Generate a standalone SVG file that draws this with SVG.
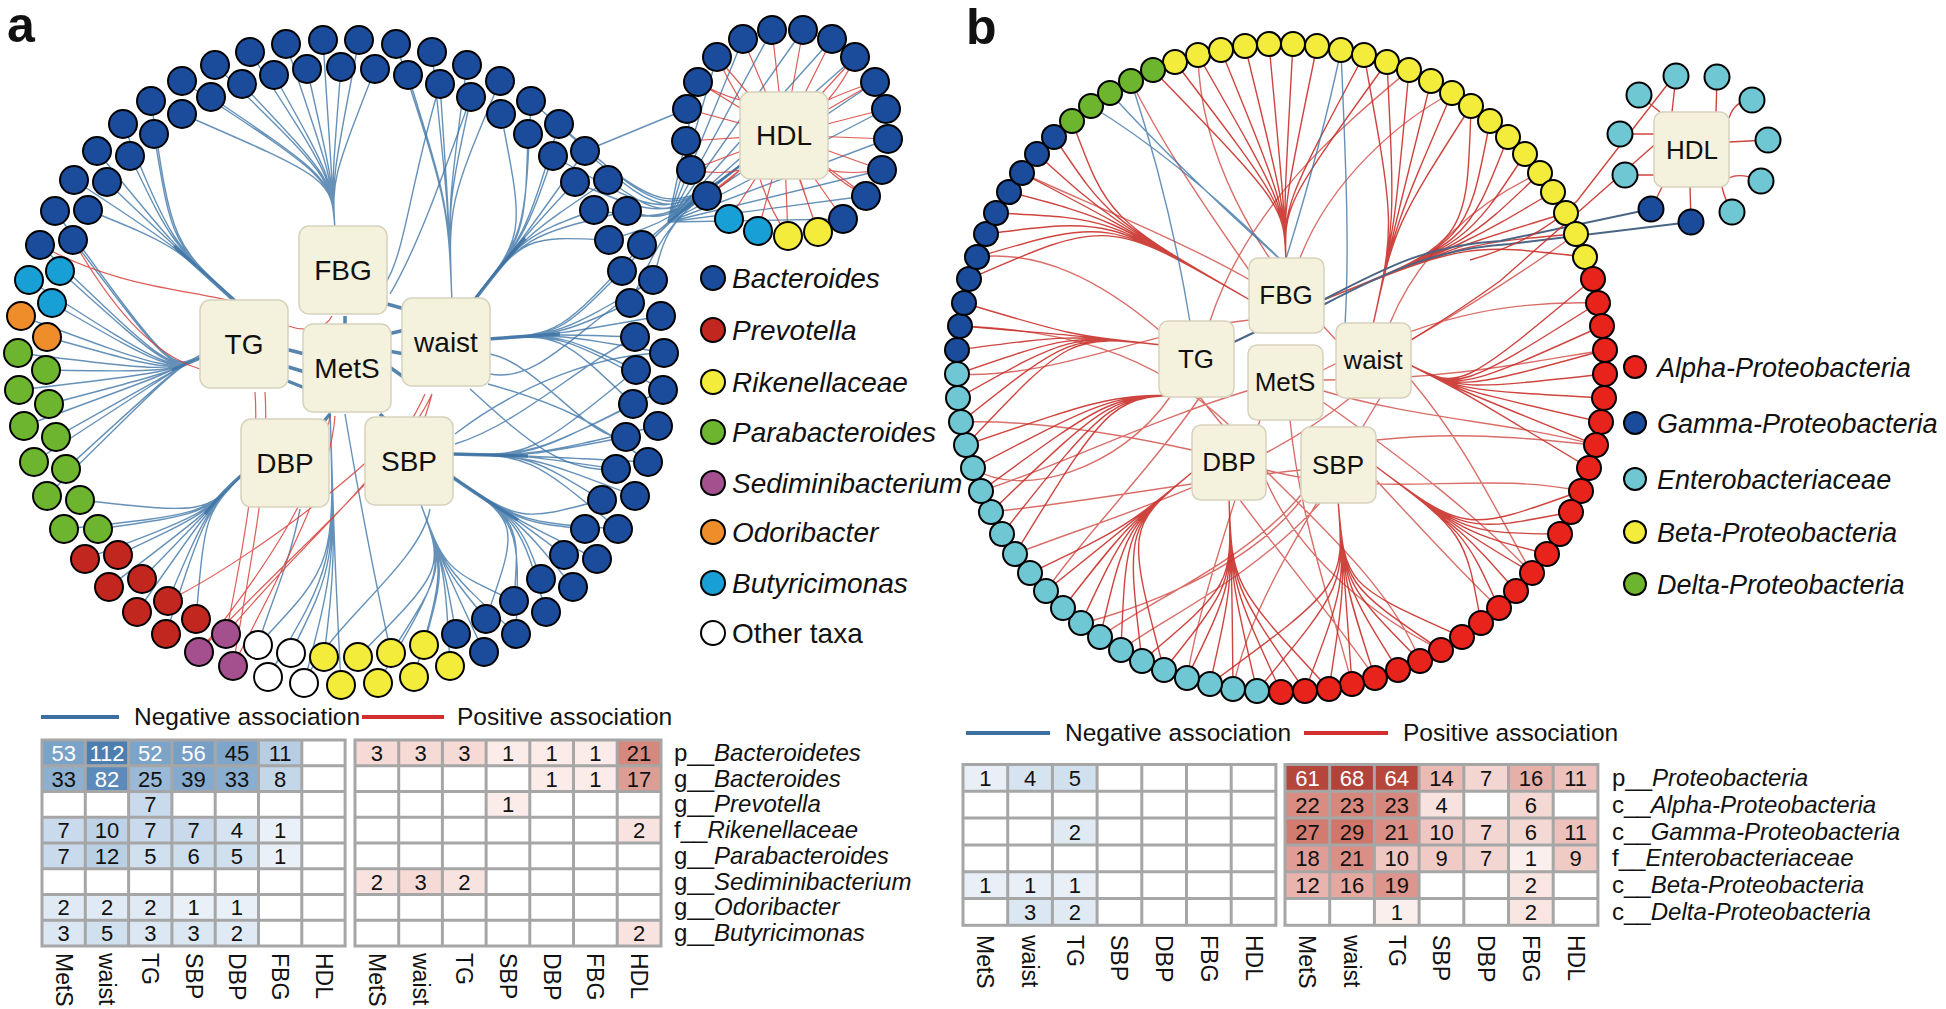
<svg xmlns="http://www.w3.org/2000/svg" width="1946" height="1009" viewBox="0 0 1946 1009">
<style>
text{font-family:"Liberation Sans",Arial,sans-serif;fill:#111}
.pl{font-size:50px;font-weight:bold}
.n{stroke:#000;stroke-width:2}
.cb{fill:#1b4b9b}.cr{fill:#c1261f}.cy{fill:#f3ec3b}.cg{fill:#6db52e}.cp{fill:#a4508f}.co{fill:#ef8d2b}.cc{fill:#18a0d6}.cw{fill:#fff}.cl{fill:#6fc7d4}.ca{fill:#e8231b}
.eb{fill:none;stroke:#3f75a8;stroke-width:1.4;stroke-opacity:.8}
.ebt{fill:none;stroke:#3a6f9f;stroke-width:3.5;stroke-opacity:.85}
.er{fill:none;stroke:#d6403a;stroke-width:1.2;stroke-opacity:.85}
.erb{fill:none;stroke:#c9302a;stroke-width:1.4;stroke-opacity:.9}
.ed{fill:none;stroke:#4b6584;stroke-width:2}
.hub rect{fill:#f4f1dc;stroke:#d6d2bd;stroke-width:1.5}
.hub text{font-size:28px;text-anchor:middle}
.hb text{font-size:26px}
.lg{font-size:28px;font-style:italic}
.lgb{font-size:27px;font-style:italic}
.hv{font-size:22px;text-anchor:middle}
.hw{fill:#fff}
.rl{font-size:24px}
.cn{font-size:23px}
.as{font-size:24.5px}
.gl{fill:none;stroke:#a6a6a6;stroke-width:3}
.lb{stroke:#3b6fa0;stroke-width:4}
.lr{stroke:#d32f2f;stroke-width:4}
</style>

<text class="pl" x="7" y="42">a</text>
<text class="pl" x="966" y="44">b</text>

<g id="connectors">
<g id="a-edges" transform="translate(0,4)">
<path class="eb" d="M335 226C332 175 332 175 182 110M335 226C332 175 332 175 182 77M335 226C332 175 332 175 211 93M335 226C332 175 332 175 215 61M335 226C332 175 332 175 242 80M335 226C332 175 332 175 250 48M335 226C332 175 332 175 274 71M335 226C332 175 332 175 286 40M335 226C332 175 332 175 307 65M335 226C332 175 332 175 323 36M335 226C332 175 332 175 341 63M335 226C332 175 332 175 359 36M335 226C332 175 332 175 375 65"/>
<path class="eb" d="M452 298C448 200 448 200 396 40M452 298C448 200 448 200 408 71M452 298C448 200 448 200 432 48M452 298C448 200 448 200 440 80M452 298C448 200 448 200 467 61M452 298C448 200 448 200 471 93M452 298C448 200 448 200 500 77"/>
<path class="eb" d="M470 300C525 232 525 232 501 110M470 300C525 232 525 232 531 97M470 300C525 232 525 232 528 130M470 300C525 232 525 232 559 120M470 300C525 232 525 232 553 152M470 300C525 232 525 232 585 147M470 300C525 232 525 232 575 178M470 300C525 232 525 232 608 176M470 300C525 232 525 232 594 206M470 300C525 232 525 232 627 207M470 300C525 232 525 232 609 236"/>
<path class="ebt" d="M470 302Q500 262 525 234M488 335Q530 332 560 330"/>
<path class="eb" d="M488 335C560 330 560 330 642 241M488 335C560 330 560 330 622 267M488 335C560 330 560 330 653 276M488 335C560 330 560 330 630 299M488 335C560 330 560 330 661 312M488 335C560 330 560 330 635 333M488 335C560 330 560 330 664 349M488 335C560 330 560 330 636 366M488 335C560 330 560 330 663 386M488 335C560 330 560 330 633 400"/>
<path class="eb" d="M452 450C530 452 530 452 636 366M452 450C530 452 530 452 663 386M452 450C530 452 530 452 633 400M452 450C530 452 530 452 658 422M452 450C530 452 530 452 626 433M452 450C530 452 530 452 648 458M452 450C530 452 530 452 616 465M452 450C530 452 530 452 635 492M452 450C530 452 530 452 602 496M452 450C530 452 530 452 618 525"/>
<path class="ebt" d="M452 450L528 452M448 470Q488 498 518 516M243 470Q222 488 205 510M205 352L172 366M240 302L174 242"/>
<path class="eb" d="M448 470C520 518 520 518 602 496M448 470C520 518 520 518 618 525M448 470C520 518 520 518 585 525M448 470C520 518 520 518 597 555M448 470C520 518 520 518 564 551M448 470C520 518 520 518 573 583M448 470C520 518 520 518 541 575M448 470C520 518 520 518 546 608M448 470C520 518 520 518 514 597M448 470C520 518 520 518 516 630M448 470C520 518 520 518 486 615"/>
<path class="eb" d="M420 498C445 565 445 565 514 597M420 498C445 565 445 565 516 630M420 498C445 565 445 565 486 615M420 498C445 565 445 565 484 648M420 498C445 565 445 565 456 630M420 498C445 565 445 565 450 662M420 498C445 565 445 565 424 641M420 498C445 565 445 565 414 673M420 498C445 565 445 565 391 649M420 498C445 565 445 565 378 679M420 498C445 565 445 565 358 653"/>
<path class="eb" d="M330 405C335 560 335 560 341 681M330 405C335 560 335 560 324 653M330 405C335 560 335 560 304 679M330 405C335 560 335 560 291 649M330 405C335 560 335 560 268 673M330 405C335 560 335 560 258 641"/>
<path class="eb" d="M243 470C205 510 205 510 196 615M243 470C205 510 205 510 166 630M243 470C205 510 205 510 168 597M243 470C205 510 205 510 137 608M243 470C205 510 205 510 142 575M243 470C205 510 205 510 109 583M243 470C205 510 205 510 118 551M243 470C205 510 205 510 85 555M243 470C205 510 205 510 98 525M243 470C205 510 205 510 64 525M243 470C205 510 205 510 80 496"/>
<path class="eb" d="M202 350C172 368 172 368 47 492M202 350C172 368 172 368 66 465M202 350C172 368 172 368 34 458M202 350C172 368 172 368 56 433M202 350C172 368 172 368 24 422M202 350C172 368 172 368 49 400M202 350C172 368 172 368 19 386M202 350C172 368 172 368 46 366M202 350C172 368 172 368 18 349M202 350C172 368 172 368 47 333M202 350C172 368 172 368 21 312M202 350C172 368 172 368 52 299M202 350C172 368 172 368 29 276M202 350C172 368 172 368 60 267M202 350C172 368 172 368 40 241M202 350C172 368 172 368 73 236M202 350C172 368 172 368 55 207"/>
<path class="eb" d="M240 300C172 240 172 240 88 206M240 300C172 240 172 240 74 176M240 300C172 240 172 240 107 178M240 300C172 240 172 240 97 147M240 300C172 240 172 240 130 152M240 300C172 240 172 240 123 120M240 300C172 240 172 240 154 130M240 300C172 240 172 240 151 97"/>
<path class="eb" d="M490 370C540 380 580 320 653 276M488 380C560 400 600 420 648 458M455 440C520 420 580 360 636 333M455 430C520 380 600 350 664 349M490 350C540 360 590 440 626 433M470 385C520 430 560 470 616 465M385 280C405 250 410 180 440 80M390 290C420 240 450 150 471 93M300 505C290 560 270 600 258 641M430 505C420 560 330 620 304 679M345 410C360 500 380 600 391 649"/>
<path class="ebt" d="M285 345L305 350M285 362L305 368M285 376L305 384M388 330L405 326M388 347L405 350M388 362L405 374M345 312L345 326M330 410L320 422M380 410L390 420M387 300L405 305"/>
<path class="er" d="M243 300C190 285 120 285 40 241M200 365C150 350 110 300 73 236M332 312C326 325 305 328 288 322M226 630C240 560 260 460 255 388M233 662C280 570 330 480 335 412M199 648C300 540 400 460 432 390M226 630C300 540 390 470 425 390M233 662C250 560 270 470 265 388M199 648C270 560 320 480 330 412M168 597C240 560 320 500 370 455M432 390C428 405 425 415 420 425"/>
</g>
<g id="a-hdl-edges">
<path class="eb" d="M760 150C668 222 668 222 559 124M760 150C668 222 668 222 585 151M760 150C668 222 668 222 608 180M760 150C668 222 668 222 594 210M760 150C668 222 668 222 627 211M760 150C668 222 668 222 609 240M760 150C668 222 668 222 642 245M760 150C668 222 668 222 622 271M760 150C668 222 668 222 653 280M760 150C668 222 668 222 630 303M760 150C668 222 668 222 575 182M760 150C668 222 668 222 553 156M760 150C668 222 668 222 531 101"/>
<path class="ebt" style="stroke-width:2.5" d="M760 150Q715 185 668 222"/>
<path class="eb" d="M668 222L832 39M668 222L855 57M668 222L875 82M668 222L886 109M668 222L888 139M668 222L882 170M668 222L866 196M668 222L843 219M668 222L717 57M668 222L743 39M668 222L772 30M668 222L803 30M668 222L698 82M687 109L585 151"/>
<path class="er" d="M784 135L772 30M784 135L803 30M784 135L832 39M784 135L855 57M784 135L875 82M784 135L886 109M784 135L888 139M784 135L882 170M784 135L866 196M784 135L843 219M784 135L818 232M784 135L788 236M784 135L758 231M784 135L729 219M784 135L707 196M784 135L691 170M784 135L686 141M784 135L687 109M784 135L698 82M784 135L717 57M784 135L743 39M740 100Q720 95 698 82M740 100Q728 80 717 57M828 100Q845 80 855 57M828 100Q850 90 875 82M828 170Q850 175 882 170M828 170Q845 185 866 196M740 170Q720 175 691 170M740 170Q725 185 707 196M760 179Q770 210 788 236M800 179Q810 210 818 232"/>
</g>
<g id="b-edges">
<path class="erb" d="M1286 262C1284 205 1284 205 1175 62M1286 262C1284 205 1284 205 1198 55M1286 262C1284 205 1284 205 1221 50M1286 262C1284 205 1284 205 1245 46M1286 262C1284 205 1284 205 1269 44M1286 262C1284 205 1284 205 1293 44M1286 262C1284 205 1284 205 1317 46M1286 262C1284 205 1284 205 1364 55M1286 262C1284 205 1284 205 1387 62M1286 262C1284 205 1284 205 1153 70"/>
<path class="erb" d="M1250 300C1108 218 1108 218 969 279M1250 300C1108 218 1108 218 977 257M1250 300C1108 218 1108 218 986 234M1250 300C1108 218 1108 218 996 213M1250 300C1108 218 1108 218 1009 192M1250 300C1108 218 1108 218 1022 173M1250 300C1108 218 1108 218 1037 154M1250 300C1108 218 1108 218 1054 137M1250 300C1108 218 1108 218 1072 121"/>
<path class="erb" d="M1162 345C1070 335 1070 335 966 445M1162 345C1070 335 1070 335 961 422M1162 345C1070 335 1070 335 958 398M1162 345C1070 335 1070 335 957 374M1162 345C1070 335 1070 335 957 350M1162 345C1070 335 1070 335 960 326M1162 345C1070 335 1070 335 964 303"/>
<path class="erb" d="M1200 395C1112 395 1112 395 1015 554M1200 395C1112 395 1112 395 1002 534M1200 395C1112 395 1112 395 991 512M1200 395C1112 395 1112 395 981 491M1200 395C1112 395 1112 395 973 468M1200 395C1112 395 1112 395 966 445"/>
<path class="erb" d="M1195 470C1126 527 1126 527 1164 670M1195 470C1126 527 1126 527 1142 661M1195 470C1126 527 1126 527 1121 650M1195 470C1126 527 1126 527 1100 637M1195 470C1126 527 1126 527 1081 623M1195 470C1126 527 1126 527 1063 608M1195 470C1126 527 1126 527 1046 591M1195 470C1126 527 1126 527 1030 573"/>
<path class="erb" d="M1229 498C1232 585 1232 585 1329 689M1229 498C1232 585 1232 585 1305 691M1229 498C1232 585 1232 585 1281 692M1229 498C1232 585 1232 585 1257 691M1229 498C1232 585 1232 585 1233 689M1229 498C1232 585 1232 585 1210 684M1229 498C1232 585 1232 585 1187 678M1229 498C1232 585 1232 585 1164 670M1229 498C1232 585 1232 585 1142 661"/>
<path class="erb" d="M1338 500C1345 585 1345 585 1462 637M1338 500C1345 585 1345 585 1441 650M1338 500C1345 585 1345 585 1420 661M1338 500C1345 585 1345 585 1398 670M1338 500C1345 585 1345 585 1375 678M1338 500C1345 585 1345 585 1352 684M1338 500C1345 585 1345 585 1329 689M1338 500C1345 585 1345 585 1305 691M1338 500C1345 585 1345 585 1257 691M1338 500C1345 585 1345 585 1210 684"/>
<path class="erb" d="M1374 465C1465 533 1465 533 1581 491M1374 465C1465 533 1465 533 1571 512M1374 465C1465 533 1465 533 1560 534M1374 465C1465 533 1465 533 1547 554M1374 465C1465 533 1465 533 1532 573M1374 465C1465 533 1465 533 1516 591M1374 465C1465 533 1465 533 1499 608M1374 465C1465 533 1465 533 1481 623"/>
<path class="erb" d="M1410 365C1460 390 1460 390 1593 279M1410 365C1460 390 1460 390 1598 303M1410 365C1460 390 1460 390 1602 326M1410 365C1460 390 1460 390 1605 350M1410 365C1460 390 1460 390 1605 374M1410 365C1460 390 1460 390 1604 398M1410 365C1460 390 1460 390 1601 422M1410 365C1460 390 1460 390 1596 445M1410 365C1460 390 1460 390 1589 468"/>
<path class="erb" d="M1323 300C1467 243 1467 243 1471 106M1323 300C1467 243 1467 243 1490 121M1323 300C1467 243 1467 243 1508 137M1323 300C1467 243 1467 243 1525 154M1323 300C1467 243 1467 243 1540 173M1323 300C1467 243 1467 243 1553 192M1323 300C1467 243 1467 243 1566 213M1323 300C1467 243 1467 243 1576 234M1323 300C1467 243 1467 243 1585 257"/>
<path class="erb" d="M1373 325C1395 225 1395 225 1364 55M1373 325C1395 225 1395 225 1387 62M1373 325C1395 225 1395 225 1409 70M1373 325C1395 225 1395 225 1431 81M1373 325C1395 225 1395 225 1452 93M1373 325C1395 225 1395 225 1471 106"/>
<path class="erb" style="stroke-opacity:.7" d="M1320 390C1420 420 1500 420 1596 445M1320 400C1420 470 1480 520 1532 573M1200 397C1260 480 1380 560 1420 661M1305 490C1250 560 1150 600 1100 637M1350 398C1250 480 1100 520 1015 554M1250 320C1150 330 1050 380 957 374M1390 323C1420 250 1480 200 1540 173M1250 390C1150 420 1050 470 981 491M1301 470C1200 480 1100 500 991 512M1266 470C1380 500 1480 470 1581 491M1380 398C1320 500 1250 600 1233 689M1210 321C1250 200 1350 120 1409 70M1250 280C1180 240 1080 200 1022 173M1411 380C1470 450 1500 520 1532 573M1320 503C1250 580 1160 620 1121 650M1240 500C1300 580 1350 640 1375 678M1290 420C1300 520 1330 600 1352 684M1260 420C1230 520 1200 600 1187 678M1200 397C1150 470 1080 540 1046 591M1323 380C1450 380 1540 360 1605 350M1323 370C1420 320 1500 300 1598 303M1411 340C1480 300 1540 260 1576 234M1376 480C1450 560 1490 600 1499 608M1266 480C1300 560 1380 620 1441 650M1192 450C1100 430 1020 420 961 422M1159 330C1100 280 1040 250 977 257M1249 270C1200 200 1160 140 1131 81M1300 258C1330 180 1400 120 1452 93M1336 340C1250 250 1200 150 1198 55M1376 440C1470 430 1540 440 1596 445M1301 500C1240 580 1100 620 1081 623M1229 425C1150 350 1060 330 960 326M1170 397C1120 470 1020 500 973 468"/>
<path class="eb" d="M1283 262Q1180 160 1091 106M1283 262Q1180 170 1110 93M1190 322Q1170 200 1131 81M1341 50C1345 150 1350 240 1345 325M1285 262Q1320 150 1341 50"/>
<path class="ed" d="M1234 342L1255 332M1323 300C1390 265 1430 245 1500 241L1651 209M1323 305C1390 270 1440 248 1510 244L1691 222"/>
<path class="erb" d="M1676 76L1672 112M1717 77L1716 112M1752 100Q1735 100 1729 118M1768 140L1729 142M1761 181Q1740 172 1729 178M1732 212Q1725 200 1722 187M1691 222L1690 187M1651 209L1662 187M1625 175L1654 175M1620 134L1654 134M1639 95L1660 112M1660 140L1500 281Q1460 310 1411 340M1667 85L1577 201Q1540 240 1470 260"/>
</g>
</g>

<g id="a-ring" class="n" transform="translate(0,4)">
<g id="a-bacteroides" class="cb">
<circle cx="341" cy="63" r="14"/><circle cx="359" cy="36" r="14"/><circle cx="375" cy="65" r="14"/><circle cx="396" cy="40" r="14"/><circle cx="408" cy="71" r="14"/><circle cx="432" cy="48" r="14"/><circle cx="440" cy="80" r="14"/><circle cx="467" cy="61" r="14"/><circle cx="471" cy="93" r="14"/><circle cx="500" cy="77" r="14"/><circle cx="501" cy="110" r="14"/><circle cx="531" cy="97" r="14"/><circle cx="528" cy="130" r="14"/><circle cx="559" cy="120" r="14"/><circle cx="553" cy="152" r="14"/><circle cx="585" cy="147" r="14"/><circle cx="575" cy="178" r="14"/><circle cx="608" cy="176" r="14"/><circle cx="594" cy="206" r="14"/><circle cx="627" cy="207" r="14"/><circle cx="609" cy="236" r="14"/><circle cx="642" cy="241" r="14"/><circle cx="622" cy="267" r="14"/><circle cx="653" cy="276" r="14"/><circle cx="630" cy="299" r="14"/><circle cx="661" cy="312" r="14"/><circle cx="635" cy="333" r="14"/><circle cx="664" cy="349" r="14"/><circle cx="636" cy="366" r="14"/><circle cx="663" cy="386" r="14"/><circle cx="633" cy="400" r="14"/><circle cx="658" cy="422" r="14"/><circle cx="626" cy="433" r="14"/><circle cx="648" cy="458" r="14"/><circle cx="616" cy="465" r="14"/><circle cx="635" cy="492" r="14"/><circle cx="602" cy="496" r="14"/><circle cx="618" cy="525" r="14"/><circle cx="585" cy="525" r="14"/><circle cx="597" cy="555" r="14"/><circle cx="564" cy="551" r="14"/><circle cx="573" cy="583" r="14"/><circle cx="541" cy="575" r="14"/><circle cx="546" cy="608" r="14"/><circle cx="514" cy="597" r="14"/><circle cx="516" cy="630" r="14"/><circle cx="486" cy="615" r="14"/><circle cx="484" cy="648" r="14"/><circle cx="456" cy="630" r="14"/>
<circle cx="40" cy="241" r="14"/><circle cx="73" cy="236" r="14"/><circle cx="55" cy="207" r="14"/><circle cx="88" cy="206" r="14"/><circle cx="74" cy="176" r="14"/><circle cx="107" cy="178" r="14"/><circle cx="97" cy="147" r="14"/><circle cx="130" cy="152" r="14"/><circle cx="123" cy="120" r="14"/><circle cx="154" cy="130" r="14"/><circle cx="151" cy="97" r="14"/><circle cx="182" cy="110" r="14"/><circle cx="182" cy="77" r="14"/><circle cx="211" cy="93" r="14"/><circle cx="215" cy="61" r="14"/><circle cx="242" cy="80" r="14"/><circle cx="250" cy="48" r="14"/><circle cx="274" cy="71" r="14"/><circle cx="286" cy="40" r="14"/><circle cx="307" cy="65" r="14"/><circle cx="323" cy="36" r="14"/>
</g>
<g id="a-rikenellaceae" class="cy"><circle cx="450" cy="662" r="14"/><circle cx="424" cy="641" r="14"/><circle cx="414" cy="673" r="14"/><circle cx="391" cy="649" r="14"/><circle cx="378" cy="679" r="14"/><circle cx="358" cy="653" r="14"/><circle cx="341" cy="681" r="14"/><circle cx="324" cy="653" r="14"/></g>
<g id="a-other" class="cw"><circle cx="304" cy="679" r="14"/><circle cx="291" cy="649" r="14"/><circle cx="268" cy="673" r="14"/><circle cx="258" cy="641" r="14"/></g>
<g id="a-sediminibacterium" class="cp"><circle cx="233" cy="662" r="14"/><circle cx="226" cy="630" r="14"/><circle cx="199" cy="648" r="14"/></g>
<g id="a-prevotella" class="cr"><circle cx="196" cy="615" r="14"/><circle cx="166" cy="630" r="14"/><circle cx="168" cy="597" r="14"/><circle cx="137" cy="608" r="14"/><circle cx="142" cy="575" r="14"/><circle cx="109" cy="583" r="14"/><circle cx="118" cy="551" r="14"/><circle cx="85" cy="555" r="14"/></g>
<g id="a-parabacteroides" class="cg"><circle cx="98" cy="525" r="14"/><circle cx="64" cy="525" r="14"/><circle cx="80" cy="496" r="14"/><circle cx="47" cy="492" r="14"/><circle cx="66" cy="465" r="14"/><circle cx="34" cy="458" r="14"/><circle cx="56" cy="433" r="14"/><circle cx="24" cy="422" r="14"/><circle cx="49" cy="400" r="14"/><circle cx="19" cy="386" r="14"/><circle cx="46" cy="366" r="14"/><circle cx="18" cy="349" r="14"/></g>
<g id="a-odoribacter" class="co"><circle cx="47" cy="333" r="14"/><circle cx="21" cy="312" r="14"/></g>
<g id="a-butyricimonas" class="cc"><circle cx="52" cy="299" r="14"/><circle cx="29" cy="276" r="14"/><circle cx="60" cy="267" r="14"/></g>
</g>

<g id="a-hdl-ring" class="n">
<g class="cb"><circle cx="772" cy="30" r="14"/><circle cx="803" cy="30" r="14"/><circle cx="832" cy="39" r="14"/><circle cx="855" cy="57" r="14"/><circle cx="875" cy="82" r="14"/><circle cx="886" cy="109" r="14"/><circle cx="888" cy="139" r="14"/><circle cx="882" cy="170" r="14"/><circle cx="866" cy="196" r="14"/><circle cx="843" cy="219" r="14"/><circle cx="707" cy="196" r="14"/><circle cx="691" cy="170" r="14"/><circle cx="686" cy="141" r="14"/><circle cx="687" cy="109" r="14"/><circle cx="698" cy="82" r="14"/><circle cx="717" cy="57" r="14"/><circle cx="743" cy="39" r="14"/></g>
<g class="cy"><circle cx="818" cy="232" r="14"/><circle cx="788" cy="236" r="14"/></g>
<g class="cc"><circle cx="758" cy="231" r="14"/><circle cx="729" cy="219" r="14"/></g>
</g>

<g id="a-hubs" class="hub">
<g id="a-FBG"><rect x="299" y="226" width="88" height="88" rx="10"/><text x="343" y="280">FBG</text></g>
<g id="a-TG"><rect x="200" y="300" width="88" height="88" rx="10"/><text x="244" y="354">TG</text></g>
<g id="a-MetS"><rect x="303" y="324" width="88" height="88" rx="10"/><text x="347" y="378">MetS</text></g>
<g id="a-waist"><rect x="402" y="298" width="88" height="88" rx="10"/><text x="446" y="352">waist</text></g>
<g id="a-DBP"><rect x="241" y="419" width="88" height="88" rx="10"/><text x="285" y="473">DBP</text></g>
<g id="a-SBP"><rect x="365" y="417" width="88" height="88" rx="10"/><text x="409" y="471">SBP</text></g>
<g id="a-HDL"><rect x="740" y="92" width="88" height="87" rx="10"/><text x="784" y="145">HDL</text></g>
</g>

<g id="a-legend">
<g class="n"><circle class="cb" cx="713" cy="278" r="12"/><circle class="cr" cx="713" cy="330" r="12"/><circle class="cy" cx="713" cy="382" r="12"/><circle class="cg" cx="713" cy="432" r="12"/><circle class="cp" cx="713" cy="483" r="12"/><circle class="co" cx="713" cy="532" r="12"/><circle class="cc" cx="713" cy="583" r="12"/><circle class="cw" cx="713" cy="633" r="12"/></g>
<text class="lg" x="732" y="288">Bacteroides</text>
<text class="lg" x="732" y="340">Prevotella</text>
<text class="lg" x="732" y="392">Rikenellaceae</text>
<text class="lg" x="732" y="442">Parabacteroides</text>
<text class="lg" x="732" y="493">Sediminibacterium</text>
<text class="lg" x="732" y="542">Odoribacter</text>
<text class="lg" x="732" y="593">Butyricimonas</text>
<text class="lg" x="732" y="643" style="font-style:normal">Other taxa</text>
</g>

<g id="b-ring" class="n">
<g id="b-beta" class="cy"><circle cx="1293" cy="44" r="12"/><circle cx="1317" cy="46" r="12"/><circle cx="1341" cy="50" r="12"/><circle cx="1364" cy="55" r="12"/><circle cx="1387" cy="62" r="12"/><circle cx="1409" cy="70" r="12"/><circle cx="1431" cy="81" r="12"/><circle cx="1452" cy="93" r="12"/><circle cx="1471" cy="106" r="12"/><circle cx="1490" cy="121" r="12"/><circle cx="1508" cy="137" r="12"/><circle cx="1525" cy="154" r="12"/><circle cx="1540" cy="173" r="12"/><circle cx="1553" cy="192" r="12"/><circle cx="1566" cy="213" r="12"/><circle cx="1576" cy="234" r="12"/><circle cx="1585" cy="257" r="12"/><circle cx="1175" cy="62" r="12"/><circle cx="1198" cy="55" r="12"/><circle cx="1221" cy="50" r="12"/><circle cx="1245" cy="46" r="12"/><circle cx="1269" cy="44" r="12"/></g>
<g id="b-alpha" class="ca"><circle cx="1593" cy="279" r="12"/><circle cx="1598" cy="303" r="12"/><circle cx="1602" cy="326" r="12"/><circle cx="1605" cy="350" r="12"/><circle cx="1605" cy="374" r="12"/><circle cx="1604" cy="398" r="12"/><circle cx="1601" cy="422" r="12"/><circle cx="1596" cy="445" r="12"/><circle cx="1589" cy="468" r="12"/><circle cx="1581" cy="491" r="12"/><circle cx="1571" cy="512" r="12"/><circle cx="1560" cy="534" r="12"/><circle cx="1547" cy="554" r="12"/><circle cx="1532" cy="573" r="12"/><circle cx="1516" cy="591" r="12"/><circle cx="1499" cy="608" r="12"/><circle cx="1481" cy="623" r="12"/><circle cx="1462" cy="637" r="12"/><circle cx="1441" cy="650" r="12"/><circle cx="1420" cy="661" r="12"/><circle cx="1398" cy="670" r="12"/><circle cx="1375" cy="678" r="12"/><circle cx="1352" cy="684" r="12"/><circle cx="1329" cy="689" r="12"/><circle cx="1305" cy="691" r="12"/><circle cx="1281" cy="692" r="12"/></g>
<g id="b-entero" class="cl"><circle cx="1257" cy="691" r="12"/><circle cx="1233" cy="689" r="12"/><circle cx="1210" cy="684" r="12"/><circle cx="1187" cy="678" r="12"/><circle cx="1164" cy="670" r="12"/><circle cx="1142" cy="661" r="12"/><circle cx="1121" cy="650" r="12"/><circle cx="1100" cy="637" r="12"/><circle cx="1081" cy="623" r="12"/><circle cx="1063" cy="608" r="12"/><circle cx="1046" cy="591" r="12"/><circle cx="1030" cy="573" r="12"/><circle cx="1015" cy="554" r="12"/><circle cx="1002" cy="534" r="12"/><circle cx="991" cy="512" r="12"/><circle cx="981" cy="491" r="12"/><circle cx="973" cy="468" r="12"/><circle cx="966" cy="445" r="12"/><circle cx="961" cy="422" r="12"/><circle cx="958" cy="398" r="12"/><circle cx="957" cy="374" r="12"/></g>
<g id="b-gamma" class="cb"><circle cx="957" cy="350" r="12"/><circle cx="960" cy="326" r="12"/><circle cx="964" cy="303" r="12"/><circle cx="969" cy="279" r="12"/><circle cx="977" cy="257" r="12"/><circle cx="986" cy="234" r="12"/><circle cx="996" cy="213" r="12"/><circle cx="1009" cy="192" r="12"/><circle cx="1022" cy="173" r="12"/><circle cx="1037" cy="154" r="12"/><circle cx="1054" cy="137" r="12"/></g>
<g id="b-delta" class="cg"><circle cx="1072" cy="121" r="12"/><circle cx="1091" cy="106" r="12"/><circle cx="1110" cy="93" r="12"/><circle cx="1131" cy="81" r="12"/><circle cx="1153" cy="70" r="12"/></g>
</g>

<g id="b-hdl-ring" class="n">
<g class="cl"><circle cx="1676" cy="76" r="12.5"/><circle cx="1717" cy="77" r="12.5"/><circle cx="1752" cy="100" r="12.5"/><circle cx="1768" cy="140" r="12.5"/><circle cx="1761" cy="181" r="12.5"/><circle cx="1732" cy="212" r="12.5"/><circle cx="1625" cy="175" r="12.5"/><circle cx="1620" cy="134" r="12.5"/><circle cx="1639" cy="95" r="12.5"/></g>
<g class="cb"><circle cx="1691" cy="222" r="12.5"/><circle cx="1651" cy="209" r="12.5"/></g>
</g>

<g id="b-hubs" class="hub hb">
<g id="b-FBG"><rect x="1249" y="258" width="75" height="75" rx="9"/><text x="1286" y="304">FBG</text></g>
<g id="b-TG"><rect x="1159" y="321" width="75" height="76" rx="9"/><text x="1196" y="368">TG</text></g>
<g id="b-MetS"><rect x="1248" y="345" width="75" height="75" rx="9"/><text x="1285" y="391">MetS</text></g>
<g id="b-waist"><rect x="1336" y="323" width="75" height="75" rx="9"/><text x="1373" y="369">waist</text></g>
<g id="b-DBP"><rect x="1192" y="425" width="74" height="75" rx="9"/><text x="1229" y="471">DBP</text></g>
<g id="b-SBP"><rect x="1301" y="427" width="75" height="76" rx="9"/><text x="1338" y="474">SBP</text></g>
<g id="b-HDL"><rect x="1654" y="112" width="75" height="75" rx="9"/><text x="1692" y="159">HDL</text></g>
</g>

<g id="b-legend">
<g class="n"><circle class="ca" cx="1635" cy="367" r="11"/><circle class="cb" cx="1635" cy="423" r="11"/><circle class="cl" cx="1635" cy="479" r="11"/><circle class="cy" cx="1635" cy="532" r="11"/><circle class="cg" cx="1635" cy="584" r="11"/></g>
<text class="lgb" x="1657" y="377">Alpha-Proteobacteria</text>
<text class="lgb" x="1657" y="433">Gamma-Proteobacteria</text>
<text class="lgb" x="1657" y="489">Enterobacteriaceae</text>
<text class="lgb" x="1657" y="542">Beta-Proteobacteria</text>
<text class="lgb" x="1657" y="594">Delta-Proteobacteria</text>
</g>

<g id="a-assoc-legend" class="as">
<line class="lb" x1="41" y1="717" x2="119" y2="717"/><text x="134" y="725">Negative association</text>
<line class="lr" x1="362" y1="717" x2="444" y2="717"/><text x="457" y="725">Positive association</text>
</g>
<g id="b-assoc-legend" class="as">
<line class="lb" x1="966" y1="733" x2="1050" y2="733"/><text x="1065" y="741">Negative association</text>
<line class="lr" x1="1304" y1="733" x2="1388" y2="733"/><text x="1403" y="741">Positive association</text>
</g>

<g id="a-heat-neg" transform="translate(42,740)">
<rect width="303.1" height="206" fill="#fff"/>
<rect x="0" y="0" width="43.3" height="25.75" fill="#7aa3c8"/><rect x="43.3" y="0" width="43.3" height="25.75" fill="#4c7eb0"/><rect x="86.6" y="0" width="43.3" height="25.75" fill="#7ba4c8"/><rect x="129.9" y="0" width="43.3" height="25.75" fill="#779fc6"/><rect x="173.2" y="0" width="43.3" height="25.75" fill="#7fa6ca"/><rect x="216.5" y="0" width="43.3" height="25.75" fill="#b7cde3"/>
<rect x="0" y="25.75" width="43.3" height="25.75" fill="#8db0d0"/><rect x="43.3" y="25.75" width="43.3" height="25.75" fill="#5b8abb"/><rect x="86.6" y="25.75" width="43.3" height="25.75" fill="#9ab9d6"/><rect x="129.9" y="25.75" width="43.3" height="25.75" fill="#86aacd"/><rect x="173.2" y="25.75" width="43.3" height="25.75" fill="#8aaecf"/><rect x="216.5" y="25.75" width="43.3" height="25.75" fill="#c4d7e9"/>
<rect x="86.6" y="51.5" width="43.3" height="25.75" fill="#c8daeb"/>
<rect x="0" y="77.25" width="43.3" height="25.75" fill="#c8daeb"/><rect x="43.3" y="77.25" width="43.3" height="25.75" fill="#bdd2e6"/><rect x="86.6" y="77.25" width="43.3" height="25.75" fill="#c8daeb"/><rect x="129.9" y="77.25" width="43.3" height="25.75" fill="#c8daeb"/><rect x="173.2" y="77.25" width="43.3" height="25.75" fill="#d6e4f1"/><rect x="216.5" y="77.25" width="43.3" height="25.75" fill="#e9f0f7"/>
<rect x="0" y="103" width="43.3" height="25.75" fill="#c8daeb"/><rect x="43.3" y="103" width="43.3" height="25.75" fill="#b9cfe4"/><rect x="86.6" y="103" width="43.3" height="25.75" fill="#d0e0ee"/><rect x="129.9" y="103" width="43.3" height="25.75" fill="#cddeed"/><rect x="173.2" y="103" width="43.3" height="25.75" fill="#d0e0ee"/><rect x="216.5" y="103" width="43.3" height="25.75" fill="#e9f0f7"/>
<rect x="0" y="154.5" width="43.3" height="25.75" fill="#e0eaf4"/><rect x="43.3" y="154.5" width="43.3" height="25.75" fill="#e0eaf4"/><rect x="86.6" y="154.5" width="43.3" height="25.75" fill="#e0eaf4"/><rect x="129.9" y="154.5" width="43.3" height="25.75" fill="#e9f0f7"/><rect x="173.2" y="154.5" width="43.3" height="25.75" fill="#e9f0f7"/>
<rect x="0" y="180.25" width="43.3" height="25.75" fill="#dbe7f2"/><rect x="43.3" y="180.25" width="43.3" height="25.75" fill="#d0e0ee"/><rect x="86.6" y="180.25" width="43.3" height="25.75" fill="#dbe7f2"/><rect x="129.9" y="180.25" width="43.3" height="25.75" fill="#dbe7f2"/><rect x="173.2" y="180.25" width="43.3" height="25.75" fill="#e0eaf4"/>
<path class="gl" d="M43.3 0V206M86.6 0V206M129.9 0V206M173.2 0V206M216.5 0V206M259.8 0V206M0 25.75H303.1M0 51.5H303.1M0 77.25H303.1M0 103H303.1M0 128.75H303.1M0 154.5H303.1M0 180.25H303.1"/>
<rect class="gl" width="303.1" height="206"/>
<g class="hv">
<text class="hw" x="21.7" y="20.9">53</text><text class="hw" x="65" y="20.9">112</text><text class="hw" x="108.3" y="20.9">52</text><text class="hw" x="151.6" y="20.9">56</text><text x="194.9" y="20.9">45</text><text x="238.2" y="20.9">11</text>
<text x="21.7" y="46.6">33</text><text class="hw" x="65" y="46.6">82</text><text x="108.3" y="46.6">25</text><text x="151.6" y="46.6">39</text><text x="194.9" y="46.6">33</text><text x="238.2" y="46.6">8</text>
<text x="108.3" y="72.4">7</text>
<text x="21.7" y="98.1">7</text><text x="65" y="98.1">10</text><text x="108.3" y="98.1">7</text><text x="151.6" y="98.1">7</text><text x="194.9" y="98.1">4</text><text x="238.2" y="98.1">1</text>
<text x="21.7" y="123.9">7</text><text x="65" y="123.9">12</text><text x="108.3" y="123.9">5</text><text x="151.6" y="123.9">6</text><text x="194.9" y="123.9">5</text><text x="238.2" y="123.9">1</text>
<text x="21.7" y="175.4">2</text><text x="65" y="175.4">2</text><text x="108.3" y="175.4">2</text><text x="151.6" y="175.4">1</text><text x="194.9" y="175.4">1</text>
<text x="21.7" y="201.1">3</text><text x="65" y="201.1">5</text><text x="108.3" y="201.1">3</text><text x="151.6" y="201.1">3</text><text x="194.9" y="201.1">2</text>
</g>
</g>

<g id="a-heat-pos" transform="translate(355,740)">
<rect width="306" height="206" fill="#fff"/>
<rect x="0" y="0" width="43.7" height="25.75" fill="#f6dad6"/><rect x="43.7" y="0" width="43.7" height="25.75" fill="#f6dad6"/><rect x="87.4" y="0" width="43.7" height="25.75" fill="#f6dad6"/><rect x="131.1" y="0" width="43.7" height="25.75" fill="#fbebe9"/><rect x="174.8" y="0" width="43.7" height="25.75" fill="#fbebe9"/><rect x="218.5" y="0" width="43.7" height="25.75" fill="#fbebe9"/><rect x="262.2" y="0" width="43.7" height="25.75" fill="#d4887e"/>
<rect x="174.8" y="25.75" width="43.7" height="25.75" fill="#fbebe9"/><rect x="218.5" y="25.75" width="43.7" height="25.75" fill="#fbebe9"/><rect x="262.2" y="25.75" width="43.7" height="25.75" fill="#dc9d94"/>
<rect x="131.1" y="51.5" width="43.7" height="25.75" fill="#fbebe9"/>
<rect x="262.2" y="77.25" width="43.7" height="25.75" fill="#f8e3e0"/>
<rect x="0" y="128.75" width="43.7" height="25.75" fill="#f8e3e0"/><rect x="43.7" y="128.75" width="43.7" height="25.75" fill="#f6dad6"/><rect x="87.4" y="128.75" width="43.7" height="25.75" fill="#f8e3e0"/>
<rect x="262.2" y="180.25" width="43.7" height="25.75" fill="#f8e3e0"/>
<path class="gl" d="M43.7 0V206M87.4 0V206M131.1 0V206M174.8 0V206M218.5 0V206M262.2 0V206M0 25.75H306M0 51.5H306M0 77.25H306M0 103H306M0 128.75H306M0 154.5H306M0 180.25H306"/>
<rect class="gl" width="306" height="206"/>
<g class="hv">
<text x="21.9" y="20.9">3</text><text x="65.6" y="20.9">3</text><text x="109.3" y="20.9">3</text><text x="153" y="20.9">1</text><text x="196.7" y="20.9">1</text><text x="240.4" y="20.9">1</text><text x="284.1" y="20.9">21</text>
<text x="196.7" y="46.6">1</text><text x="240.4" y="46.6">1</text><text x="284.1" y="46.6">17</text>
<text x="153" y="72.4">1</text>
<text x="284.1" y="98.1">2</text>
<text x="21.9" y="149.6">2</text><text x="65.6" y="149.6">3</text><text x="109.3" y="149.6">2</text>
<text x="284.1" y="201.1">2</text>
</g>
</g>

<g id="a-heat-labels" class="rl">
<text x="674" y="761">p__<tspan font-style="italic">Bacteroidetes</tspan></text>
<text x="674" y="787">g__<tspan font-style="italic">Bacteroides</tspan></text>
<text x="674" y="812">g__<tspan font-style="italic">Prevotella</tspan></text>
<text x="674" y="838">f__<tspan font-style="italic">Rikenellaceae</tspan></text>
<text x="674" y="864">g__<tspan font-style="italic">Parabacteroides</tspan></text>
<text x="674" y="890">g__<tspan font-style="italic">Sediminibacterium</tspan></text>
<text x="674" y="915">g__<tspan font-style="italic">Odoribacter</tspan></text>
<text x="674" y="941">g__<tspan font-style="italic">Butyricimonas</tspan></text>
</g>
<g id="a-heat-cols" class="cn">
<text transform="translate(56,953) rotate(90)">MetS</text><text transform="translate(99,953) rotate(90)">waist</text><text transform="translate(142,953) rotate(90)">TG</text><text transform="translate(186,953) rotate(90)">SBP</text><text transform="translate(229,953) rotate(90)">DBP</text><text transform="translate(272,953) rotate(90)">FBG</text><text transform="translate(316,953) rotate(90)">HDL</text>
<text transform="translate(369,953) rotate(90)">MetS</text><text transform="translate(413,953) rotate(90)">waist</text><text transform="translate(456,953) rotate(90)">TG</text><text transform="translate(500,953) rotate(90)">SBP</text><text transform="translate(544,953) rotate(90)">DBP</text><text transform="translate(587,953) rotate(90)">FBG</text><text transform="translate(631,953) rotate(90)">HDL</text>
</g>

<g id="b-heat-neg" transform="translate(963,764.5)">
<rect width="312.9" height="160.8" fill="#fff"/>
<rect x="0" y="0" width="44.7" height="26.8" fill="#e8eff7"/><rect x="44.7" y="0" width="44.7" height="26.8" fill="#d6e4f1"/><rect x="89.4" y="0" width="44.7" height="26.8" fill="#d0e0ee"/>
<rect x="89.4" y="53.6" width="44.7" height="26.8" fill="#e0eaf4"/>
<rect x="0" y="107.2" width="44.7" height="26.8" fill="#e8eff7"/><rect x="44.7" y="107.2" width="44.7" height="26.8" fill="#e8eff7"/><rect x="89.4" y="107.2" width="44.7" height="26.8" fill="#e8eff7"/>
<rect x="44.7" y="134" width="44.7" height="26.8" fill="#dbe7f2"/><rect x="89.4" y="134" width="44.7" height="26.8" fill="#e0eaf4"/>
<path class="gl" d="M44.7 0V160.8M89.4 0V160.8M134.1 0V160.8M178.8 0V160.8M223.5 0V160.8M268.2 0V160.8M0 26.8H312.9M0 53.6H312.9M0 80.4H312.9M0 107.2H312.9M0 134H312.9"/>
<rect class="gl" width="312.9" height="160.8"/>
<g class="hv">
<text x="22.4" y="21.4">1</text><text x="67.1" y="21.4">4</text><text x="111.8" y="21.4">5</text>
<text x="111.8" y="75">2</text>
<text x="22.4" y="128.6">1</text><text x="67.1" y="128.6">1</text><text x="111.8" y="128.6">1</text>
<text x="67.1" y="155.4">3</text><text x="111.8" y="155.4">2</text>
</g>
</g>

<g id="b-heat-pos" transform="translate(1285,764.5)">
<rect width="312.9" height="160.8" fill="#fff"/>
<rect x="0" y="0" width="44.7" height="26.8" fill="#b5463c"/><rect x="44.7" y="0" width="44.7" height="26.8" fill="#b2433a"/><rect x="89.4" y="0" width="44.7" height="26.8" fill="#b6473d"/><rect x="134.1" y="0" width="44.7" height="26.8" fill="#ebbab4"/><rect x="178.8" y="0" width="44.7" height="26.8" fill="#f3d5d1"/><rect x="223.5" y="0" width="44.7" height="26.8" fill="#e6afa8"/><rect x="268.2" y="0" width="44.7" height="26.8" fill="#eec2bc"/>
<rect x="0" y="26.8" width="44.7" height="26.8" fill="#d98c82"/><rect x="44.7" y="26.8" width="44.7" height="26.8" fill="#d7887e"/><rect x="89.4" y="26.8" width="44.7" height="26.8" fill="#d7887e"/><rect x="134.1" y="26.8" width="44.7" height="26.8" fill="#f7e2df"/><rect x="223.5" y="26.8" width="44.7" height="26.8" fill="#f4d8d4"/>
<rect x="0" y="53.6" width="44.7" height="26.8" fill="#d27b70"/><rect x="44.7" y="53.6" width="44.7" height="26.8" fill="#d0766b"/><rect x="89.4" y="53.6" width="44.7" height="26.8" fill="#da8f86"/><rect x="134.1" y="53.6" width="44.7" height="26.8" fill="#efc7c2"/><rect x="178.8" y="53.6" width="44.7" height="26.8" fill="#f3d5d1"/><rect x="223.5" y="53.6" width="44.7" height="26.8" fill="#f4d8d4"/><rect x="268.2" y="53.6" width="44.7" height="26.8" fill="#eec2bc"/>
<rect x="0" y="80.4" width="44.7" height="26.8" fill="#df9d95"/><rect x="44.7" y="80.4" width="44.7" height="26.8" fill="#da8f86"/><rect x="89.4" y="80.4" width="44.7" height="26.8" fill="#efc7c2"/><rect x="134.1" y="80.4" width="44.7" height="26.8" fill="#f0cbc6"/><rect x="178.8" y="80.4" width="44.7" height="26.8" fill="#f3d5d1"/><rect x="223.5" y="80.4" width="44.7" height="26.8" fill="#fbefed"/><rect x="268.2" y="80.4" width="44.7" height="26.8" fill="#f0cbc6"/>
<rect x="0" y="107.2" width="44.7" height="26.8" fill="#e8b4ad"/><rect x="44.7" y="107.2" width="44.7" height="26.8" fill="#e4a8a0"/><rect x="89.4" y="107.2" width="44.7" height="26.8" fill="#dd968d"/><rect x="223.5" y="107.2" width="44.7" height="26.8" fill="#f9e6e3"/>
<rect x="89.4" y="134" width="44.7" height="26.8" fill="#fbefed"/><rect x="223.5" y="134" width="44.7" height="26.8" fill="#f9e6e3"/>
<path class="gl" d="M44.7 0V160.8M89.4 0V160.8M134.1 0V160.8M178.8 0V160.8M223.5 0V160.8M268.2 0V160.8M0 26.8H312.9M0 53.6H312.9M0 80.4H312.9M0 107.2H312.9M0 134H312.9"/>
<rect class="gl" width="312.9" height="160.8"/>
<g class="hv">
<text class="hw" x="22.4" y="21.4">61</text><text class="hw" x="67.1" y="21.4">68</text><text class="hw" x="111.8" y="21.4">64</text><text x="156.5" y="21.4">14</text><text x="201.2" y="21.4">7</text><text x="245.9" y="21.4">16</text><text x="290.6" y="21.4">11</text>
<text x="22.4" y="48.2">22</text><text x="67.1" y="48.2">23</text><text x="111.8" y="48.2">23</text><text x="156.5" y="48.2">4</text><text x="245.9" y="48.2">6</text>
<text x="22.4" y="75">27</text><text x="67.1" y="75">29</text><text x="111.8" y="75">21</text><text x="156.5" y="75">10</text><text x="201.2" y="75">7</text><text x="245.9" y="75">6</text><text x="290.6" y="75">11</text>
<text x="22.4" y="101.8">18</text><text x="67.1" y="101.8">21</text><text x="111.8" y="101.8">10</text><text x="156.5" y="101.8">9</text><text x="201.2" y="101.8">7</text><text x="245.9" y="101.8">1</text><text x="290.6" y="101.8">9</text>
<text x="22.4" y="128.6">12</text><text x="67.1" y="128.6">16</text><text x="111.8" y="128.6">19</text><text x="245.9" y="128.6">2</text>
<text x="111.8" y="155.4">1</text><text x="245.9" y="155.4">2</text>
</g>
</g>

<g id="b-heat-labels" class="rl">
<text x="1612" y="786">p__<tspan font-style="italic">Proteobacteria</tspan></text>
<text x="1612" y="813">c__<tspan font-style="italic">Alpha-Proteobacteria</tspan></text>
<text x="1612" y="840">c__<tspan font-style="italic">Gamma-Proteobacteria</tspan></text>
<text x="1612" y="866">f__<tspan font-style="italic">Enterobacteriaceae</tspan></text>
<text x="1612" y="893">c__<tspan font-style="italic">Beta-Proteobacteria</tspan></text>
<text x="1612" y="920">c__<tspan font-style="italic">Delta-Proteobacteria</tspan></text>
</g>
<g id="b-heat-cols" class="cn">
<text transform="translate(977,935) rotate(90)">MetS</text><text transform="translate(1022,935) rotate(90)">waist</text><text transform="translate(1067,935) rotate(90)">TG</text><text transform="translate(1111,935) rotate(90)">SBP</text><text transform="translate(1156,935) rotate(90)">DBP</text><text transform="translate(1201,935) rotate(90)">FBG</text><text transform="translate(1246,935) rotate(90)">HDL</text>
<text transform="translate(1299,935) rotate(90)">MetS</text><text transform="translate(1344,935) rotate(90)">waist</text><text transform="translate(1389,935) rotate(90)">TG</text><text transform="translate(1433,935) rotate(90)">SBP</text><text transform="translate(1478,935) rotate(90)">DBP</text><text transform="translate(1523,935) rotate(90)">FBG</text><text transform="translate(1568,935) rotate(90)">HDL</text>
</g>
</svg>
